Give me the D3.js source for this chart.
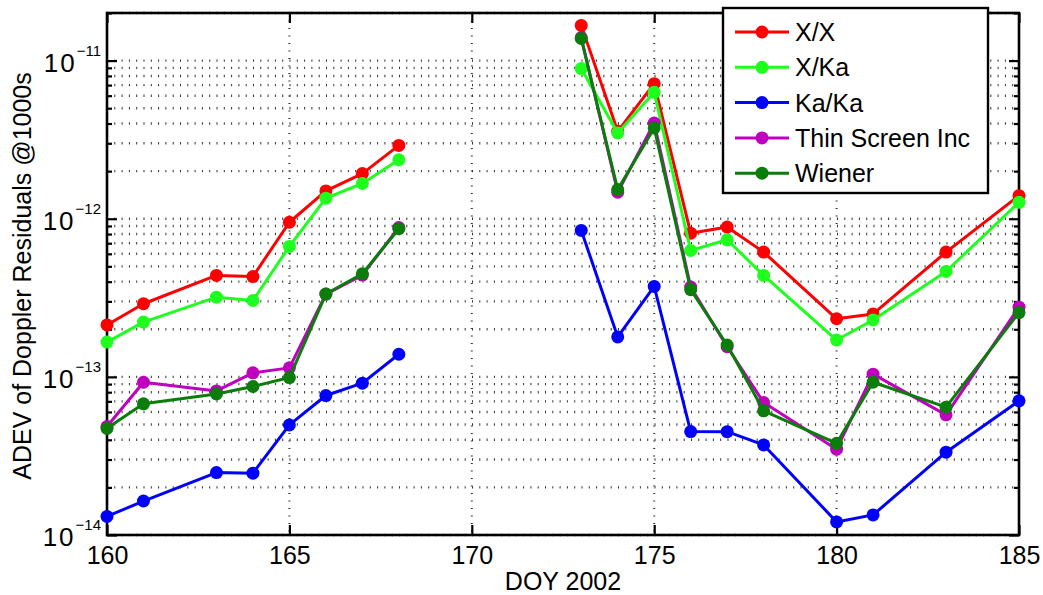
<!DOCTYPE html>
<html>
<head>
<meta charset="utf-8">
<script src="https://cdn.jsdelivr.net/npm/d3@7"></script>
<style>
  body { margin: 0; background: #fff; }
  svg text { font-family: "Liberation Sans", Arial, Helvetica, sans-serif; fill: #000; }
</style>
</head>
<body>
<script>
// day of year (170 is a missing day, which breaks the lines)
var days = [160, 161, 163, 164, 165, 166, 167, 168, 170, 173, 174, 175, 176, 177, 178, 180, 181, 183, 185];

// ADEV values per series
var xx     = [2.13e-13, 2.90e-13, 4.38e-13, 4.31e-13, 9.5e-13, 1.50e-12, 1.93e-12, 2.91e-12, null, 1.67e-11, 3.57e-12, 7.15e-12, 8.1e-13, 8.86e-13, 6.15e-13, 2.33e-13, 2.5e-13, 6.15e-13, 1.40e-12];
var xka    = [1.66e-13, 2.22e-13, 3.19e-13, 3.04e-13, 6.68e-13, 1.35e-12, 1.67e-12, 2.36e-12, null, 8.9e-12, 3.49e-12, 6.3e-12, 6.3e-13, 7.36e-13, 4.38e-13, 1.71e-13, 2.29e-13, 4.64e-13, 1.27e-12];
var kaka   = [1.31e-14, 1.64e-14, 2.48e-14, 2.46e-14, 4.97e-14, 7.62e-14, 9.12e-14, 1.39e-13, null, 8.44e-13, 1.79e-13, 3.73e-13, 4.51e-14, 4.5e-14, 3.71e-14, 1.21e-14, 1.34e-14, 3.34e-14, 7.05e-14];
var thin   = [4.85e-14, 9.25e-14, 8.15e-14, 1.06e-13, 1.14e-13, 3.34e-13, 4.4e-13, 8.8e-13, null, 1.4e-11, 1.47e-12, 4.03e-12, 3.7e-13, 1.55e-13, 6.88e-14, 3.49e-14, 1.04e-13, 5.75e-14, 2.76e-13];
var wiener = [4.73e-14, 6.75e-14, 7.8e-14, 8.69e-14, 9.9e-14, 3.34e-13, 4.49e-13, 8.65e-13, null, 1.38e-11, 1.53e-12, 3.75e-12, 3.56e-13, 1.59e-13, 6.1e-14, 3.8e-14, 9.25e-14, 6.43e-14, 2.55e-13];

var names  = ["X/X", "X/Ka", "Ka/Ka", "Thin Screen Inc", "Wiener"];
var colors = ["#ff0000", "#1eff1e", "#0000ff", "#bf00bf", "#0a7d0a"];
var values = [xx, xka, kaka, thin, wiener];

var xTicks = [160, 165, 170, 175, 180, 185];
var yExps  = [-14, -13, -12, -11];

// layout
var W = 1043, H = 595;
var MARGINS = {left: 107, right: 24, top: 13, bottom: 60};
var width = W - MARGINS.left - MARGINS.right;
var height = H - MARGINS.top - MARGINS.bottom;

// scales
var xScale = d3.scaleLinear().domain([160, 185]).range([0, width]);
var yScale = d3.scaleLog().domain([1e-14, 2e-11]).range([height, 0]);

var majorY = yExps.map(function (e) { return Math.pow(10, e); });
var minorY = [];
yExps.forEach(function (e) {
    for (var k = 2; k <= 9; k++) {
        var v = k * Math.pow(10, e);
        if (v <= 2e-11) minorY.push(v);
    }
});

var svg = d3.select("body").append("svg")
    .attr("width", W)
    .attr("height", H);

var g = svg.append("g")
    .attr("transform", "translate(" + MARGINS.left + "," + MARGINS.top + ")");

// grid (dotted)
g.append("g").selectAll("line")
    .data(majorY.concat(minorY))
    .enter().append("line")
    .attr("x1", 0).attr("x2", width)
    .attr("y1", function (d) { return yScale(d); })
    .attr("y2", function (d) { return yScale(d); })
    .attr("stroke", "#333")
    .attr("stroke-width", 2.4)
    .attr("stroke-dasharray", "1,6.3");

g.append("g").selectAll("line")
    .data(xTicks.slice(1, -1))
    .enter().append("line")
    .attr("x1", function (d) { return xScale(d); })
    .attr("x2", function (d) { return xScale(d); })
    .attr("y1", 0).attr("y2", height)
    .attr("stroke", "#333")
    .attr("stroke-width", 2)
    .attr("stroke-dasharray", "1,6.5");

// axes: ticks point inward on all four sides
function styleAxis(sel) {
    sel.select(".domain").remove();
    sel.selectAll(".tick line").attr("stroke", "#000").attr("stroke-width", 2.2);
}

g.append("g")
    .attr("transform", "translate(0," + height + ")")
    .call(d3.axisBottom(xScale).tickValues(xTicks).tickSize(-10).tickPadding(11).tickFormat(d3.format("d")))
    .call(styleAxis)
    .selectAll("text").attr("font-size", 25).attr("font-family", "Liberation Sans, Arial, sans-serif");

g.append("g")
    .call(d3.axisTop(xScale).tickValues(xTicks).tickSize(-10).tickFormat(""))
    .call(styleAxis);

g.append("g")
    .call(d3.axisLeft(yScale).tickValues(majorY).tickSize(-10).tickFormat(""))
    .call(styleAxis);
g.append("g")
    .call(d3.axisLeft(yScale).tickValues(minorY).tickSize(-5).tickFormat(""))
    .call(styleAxis);
g.append("g")
    .attr("transform", "translate(" + width + ",0)")
    .call(d3.axisRight(yScale).tickValues(majorY).tickSize(-10).tickFormat(""))
    .call(styleAxis);
g.append("g")
    .attr("transform", "translate(" + width + ",0)")
    .call(d3.axisRight(yScale).tickValues(minorY).tickSize(-5).tickFormat(""))
    .call(styleAxis);

// y tick labels as 10^n
var ylab = g.append("g").selectAll("text")
    .data(yExps)
    .enter().append("text")
    .attr("text-anchor", "end")
    .attr("x", -6)
    .attr("y", function (e) { return yScale(Math.pow(10, e)) + 11; });
ylab.append("tspan").attr("font-size", 26).attr("letter-spacing", 2).text("10");
ylab.append("tspan").attr("font-size", 15).attr("dy", -16).text(function (e) { return "\u2212" + (-e); });

// box
g.append("rect")
    .attr("width", width).attr("height", height)
    .attr("fill", "none").attr("stroke", "#000").attr("stroke-width", 2.6);

// series
var line = d3.line()
    .defined(function (d) { return d.v !== null; })
    .x(function (d) { return xScale(d.x); })
    .y(function (d) { return yScale(d.v); });

values.forEach(function (vals, i) {
    var pts = days.map(function (dd, j) { return {x: dd, v: vals[j]}; });
    var sg = g.append("g");
    sg.append("path").datum(pts)
        .attr("d", line)
        .attr("fill", "none")
        .attr("stroke", colors[i])
        .attr("stroke-width", 3)
        .attr("stroke-linejoin", "round");
    sg.selectAll("circle")
        .data(pts.filter(function (d) { return d.v !== null; }))
        .enter().append("circle")
        .attr("cx", function (d) { return xScale(d.x); })
        .attr("cy", function (d) { return yScale(d.v); })
        .attr("r", 6.5)
        .attr("fill", colors[i]);
});

// axis labels
svg.append("text")
    .attr("x", MARGINS.left + width / 2)
    .attr("y", 590)
    .attr("text-anchor", "middle")
    .attr("font-size", 25)
    .text("DOY 2002");

svg.append("text")
    .attr("transform", "translate(31," + (MARGINS.top + height / 2 + 2) + ") rotate(-90)")
    .attr("text-anchor", "middle")
    .attr("font-size", 25)
    .text("ADEV of Doppler Residuals @1000s");

// legend
var legend = svg.append("g").attr("transform", "translate(723,8)");
legend.append("rect")
    .attr("width", 265).attr("height", 185)
    .attr("fill", "#fff").attr("stroke", "#000").attr("stroke-width", 2.4);

var items = legend.selectAll("g.item")
    .data(names)
    .enter().append("g")
    .attr("class", "item")
    .attr("transform", function (d, i) { return "translate(0," + (24 + i * 35.3) + ")"; });
items.append("line")
    .attr("x1", 12).attr("x2", 66)
    .attr("stroke", function (d, i) { return colors[i]; })
    .attr("stroke-width", 3);
items.append("circle")
    .attr("cx", 39).attr("r", 6.5)
    .attr("fill", function (d, i) { return colors[i]; });
items.append("text")
    .attr("x", 72).attr("y", 9)
    .attr("font-size", 25)
    .text(function (d) { return d; });
</script>
</body>
</html>
